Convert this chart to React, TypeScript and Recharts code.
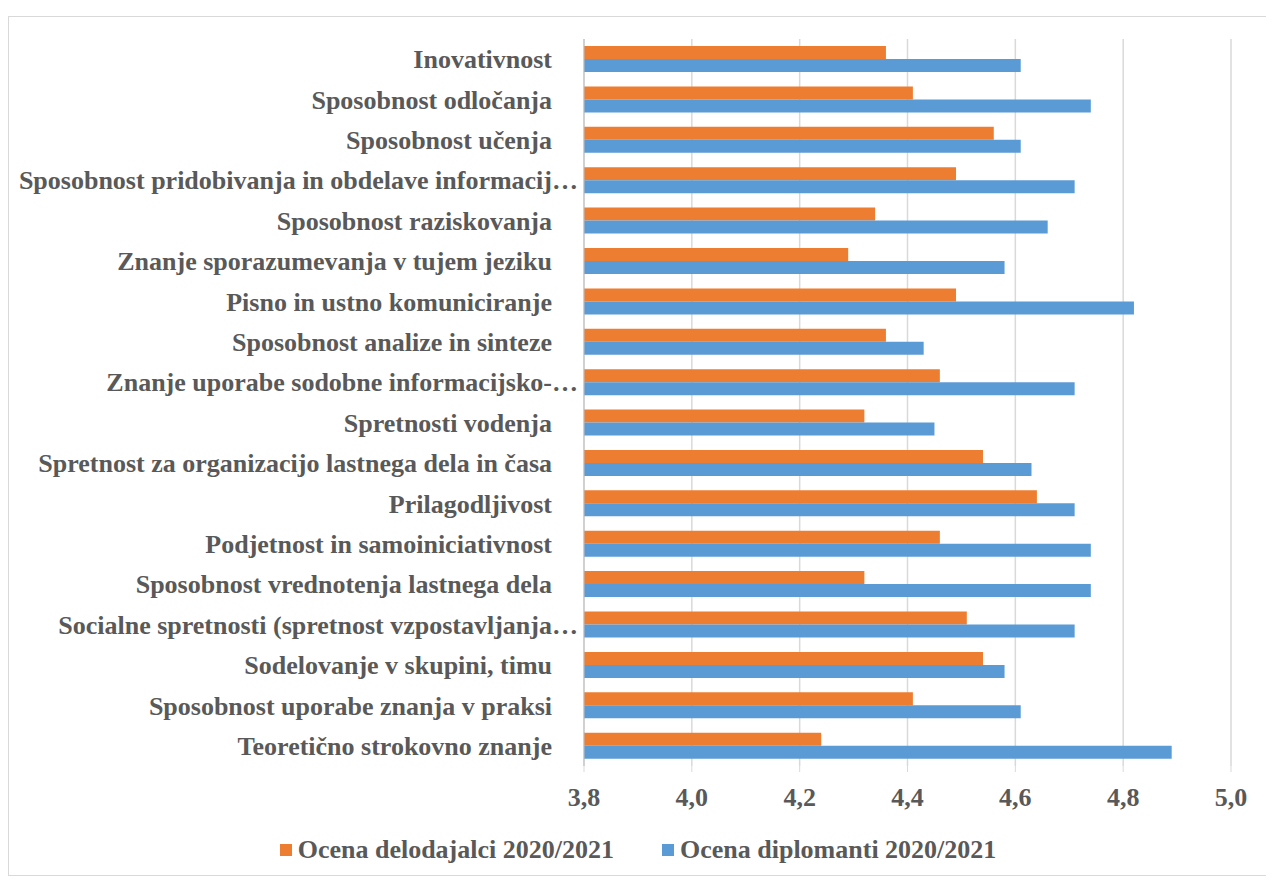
import { BarChart, Bar, XAxis, YAxis, CartesianGrid, Legend } from 'recharts'

const categories = [
  'Inovativnost',
  'Sposobnost odločanja',
  'Sposobnost učenja',
  'Sposobnost pridobivanja in obdelave informacij…',
  'Sposobnost raziskovanja',
  'Znanje sporazumevanja v tujem jeziku',
  'Pisno in ustno komuniciranje',
  'Sposobnost analize in sinteze',
  'Znanje uporabe sodobne informacijsko-…',
  'Spretnosti vodenja',
  'Spretnost za organizacijo lastnega dela in časa',
  'Prilagodljivost',
  'Podjetnost in samoiniciativnost',
  'Sposobnost vrednotenja lastnega dela',
  'Socialne spretnosti (spretnost vzpostavljanja…',
  'Sodelovanje v skupini, timu',
  'Sposobnost uporabe znanja v praksi',
  'Teoretično strokovno znanje'
]

const delodajalci = [
  4.36, 4.41, 4.56, 4.49, 4.34, 4.29, 4.49, 4.36, 4.46,
  4.32, 4.54, 4.64, 4.46, 4.32, 4.51, 4.54, 4.41, 4.24
]

const diplomanti = [
  4.61, 4.74, 4.61, 4.71, 4.66, 4.58, 4.82, 4.43, 4.71,
  4.45, 4.63, 4.71, 4.74, 4.74, 4.71, 4.58, 4.61, 4.89
]

const xTicks = [3.8, 4.0, 4.2, 4.4, 4.6, 4.8, 5.0]

const seriesNames = ['Ocena delodajalci 2020/2021', 'Ocena diplomanti 2020/2021']
const ORANGE = '#ED7D31'
const BLUE = '#5B9BD5'
const TEXT = '#595959'
const FONT = '"Liberation Serif", "Times New Roman", serif'

const data = categories.map((name, i) => ({
  name,
  delodajalci: delodajalci[i],
  diplomanti: diplomanti[i]
}))

const CategoryTick = ({ x, y, payload }: any) => {
  const label: string = payload.value
  const truncated = label.endsWith('…')
  return (
    <text
      x={truncated ? x + 2 : x - 24}
      y={y}
      dy="0.35em"
      textAnchor="end"
      fill={TEXT}
      fontFamily={FONT}
      fontWeight="bold"
      fontSize={26}
    >
      {label}
    </text>
  )
}

const LegendContent = () => (
  <div style={{ display: 'flex', justifyContent: 'center', gap: 48, fontFamily: FONT }}>
    {seriesNames.map((n, i) => (
      <div key={n} style={{ display: 'flex', alignItems: 'center', color: TEXT }}>
        <span
          style={{
            width: 12,
            height: 12,
            background: i === 0 ? ORANGE : BLUE,
            display: 'inline-block',
            marginRight: 6
          }}
        />
        <span style={{ fontSize: 26, fontWeight: 'bold' }}>{n}</span>
      </div>
    ))}
  </div>
)

export default function App() {
  return (
    <div
      style={{
        marginTop: 8,
        width: 1258,
        height: 858,
        border: '1px solid #d9d9d9',
        background: '#fff'
      }}
    >
      <BarChart
        width={1258}
        height={858}
        data={data}
        layout="vertical"
        barGap={0}
        barCategoryGap="17.5%"
        margin={{ top: 22, right: 36, left: 0, bottom: 49 }}
      >
        <CartesianGrid horizontal={false} stroke="#d9d9d9" strokeWidth={1.5} />
        <XAxis
          type="number"
          domain={[3.8, 5.0]}
          ticks={xTicks}
          allowDataOverflow
          axisLine={false}
          tickLine={{ stroke: '#d9d9d9' }}
          tickSize={6}
          tickMargin={16}
          height={60}
          tickFormatter={(v: number) => v.toFixed(1).replace('.', ',')}
          tick={{ fill: TEXT, fontFamily: FONT, fontWeight: 'bold', fontSize: 26 }}
        />
        <YAxis
          type="category"
          dataKey="name"
          width={575}
          axisLine={{ stroke: '#bfbfbf' }}
          tickLine={false}
          interval={0}
          tick={<CategoryTick />}
        />
        <Legend
          layout="horizontal"
          verticalAlign="middle"
          align="center"
          wrapperStyle={{ top: 818, left: 0, width: 1258 }}
          content={<LegendContent />}
        />
        <Bar dataKey="delodajalci" name={seriesNames[0]} fill={ORANGE} isAnimationActive={false} />
        <Bar dataKey="diplomanti" name={seriesNames[1]} fill={BLUE} isAnimationActive={false} />
      </BarChart>
    </div>
  )
}
